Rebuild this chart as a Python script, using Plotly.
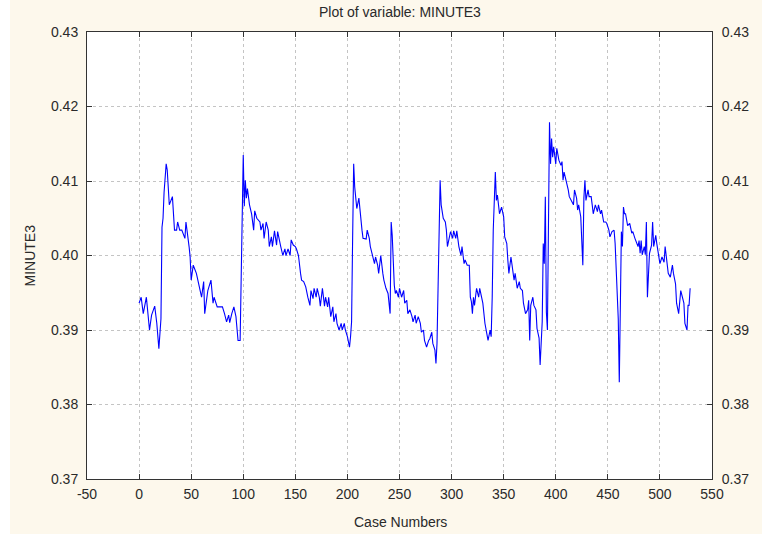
import plotly.graph_objects as go

# Case numbers and MINUTE3 values
case_numbers = [
    0, 2, 4, 7, 10, 12, 15, 17, 19, 21, 22, 23, 24, 26, 27, 28, 29, 32, 33, 34,
    36, 37, 39, 41, 44, 45, 48, 49, 50, 52, 55, 58, 60, 62, 63, 66, 69, 71, 72, 75,
    80, 82, 84, 86, 87, 89, 91, 93, 94, 95, 97, 98, 99, 100, 101, 102, 103, 104, 106, 108,
    110, 111, 113, 116, 117, 119, 120, 122, 124, 125, 127, 128, 130, 132, 133, 135, 136, 138, 140, 141,
    143, 145, 146, 148, 150, 151, 153, 155, 156, 158, 159, 160, 162, 164, 165, 167, 168, 170, 171, 173,
    174, 176, 178, 179, 181, 182, 184, 186, 187, 189, 190, 192, 194, 195, 197, 198, 200, 202, 203, 204,
    205, 206, 207, 209, 211, 212, 214, 215, 218, 219, 221, 222, 224, 226, 227, 229, 230, 232, 234, 235,
    237, 238, 239, 241, 242, 243, 244, 245, 246, 247, 249, 250, 252, 254, 255, 257, 258, 260, 262, 263,
    265, 266, 268, 270, 271, 273, 274, 276, 278, 279, 281, 282, 284, 285, 286, 287, 288, 289, 290, 292,
    294, 295, 296, 298, 299, 301, 302, 304, 305, 307, 309, 310, 312, 313, 315, 317, 318, 319, 320, 321,
    322, 324, 326, 327, 329, 330, 332, 334, 335, 337, 338, 339, 340, 342, 343, 344, 345, 346, 348, 350,
    351, 353, 354, 355, 357, 358, 360, 361, 363, 365, 366, 368, 369, 371, 373, 374, 375, 376, 378, 379,
    381, 382, 384, 385, 386, 387, 388, 389, 390, 391, 392, 393, 394, 395, 396, 397, 398, 400, 401, 403,
    405, 406, 407, 408, 410, 412, 413, 415, 417, 418, 420, 421, 422, 424, 425, 426, 427, 428, 429, 431,
    432, 434, 435, 436, 438, 440, 441, 443, 444, 446, 448, 449, 451, 452, 454, 456, 457, 459, 460, 461,
    462, 463, 464, 465, 466, 467, 469, 471, 473, 474, 476, 477, 479, 480, 481, 482, 483, 485, 486, 487,
    488, 489, 490, 492, 493, 494, 496, 497, 499, 500, 502, 504, 505, 507, 508, 510, 512, 513, 515, 516,
    518, 520, 521, 523, 524, 526, 527, 528, 529,
]

minute3 = [
    0.3936, 0.3944, 0.3922, 0.3944, 0.3900, 0.3920, 0.3932, 0.3909, 0.3875, 0.3915, 0.4038, 0.4050, 0.4085, 0.4123, 0.4115, 0.4085, 0.4068, 0.4079, 0.4045, 0.4034,
    0.4034, 0.4045, 0.4034, 0.4034, 0.4023, 0.4045, 0.4012, 0.3998, 0.3967, 0.3987, 0.3976, 0.3956, 0.3944, 0.3965, 0.3922, 0.3953, 0.3967, 0.3936, 0.3944, 0.3931,
    0.3931, 0.3922, 0.3911, 0.3920, 0.3910, 0.3922, 0.3931, 0.3918, 0.3900, 0.3886, 0.3886, 0.3956, 0.4070, 0.4135, 0.4066, 0.4101, 0.4077, 0.4090, 0.4068, 0.4056,
    0.4034, 0.4060, 0.4050, 0.4045, 0.4034, 0.4043, 0.4023, 0.4045, 0.4034, 0.4012, 0.4025, 0.4012, 0.4033, 0.4014, 0.4032, 0.4021, 0.4012, 0.4000, 0.4009, 0.4000,
    0.4009, 0.4000, 0.4021, 0.4014, 0.4012, 0.4009, 0.4000, 0.3976, 0.3967, 0.3965, 0.3962, 0.3958, 0.3944, 0.3933, 0.3953, 0.3942, 0.3956, 0.3944, 0.3956, 0.3944,
    0.3932, 0.3956, 0.3932, 0.3944, 0.3931, 0.3944, 0.3918, 0.3931, 0.3911, 0.3922, 0.3909, 0.3900, 0.3909, 0.3900, 0.3909, 0.3900, 0.3891, 0.3877, 0.3891, 0.3911,
    0.4023, 0.4123, 0.4092, 0.4063, 0.4077, 0.4059, 0.4034, 0.4023, 0.4022, 0.4034, 0.4023, 0.4012, 0.4000, 0.3989, 0.3998, 0.3987, 0.3976, 0.4000, 0.3976, 0.3967,
    0.3956, 0.3953, 0.3949, 0.3922, 0.4045, 0.4027, 0.3989, 0.3960, 0.3949, 0.3953, 0.3944, 0.3956, 0.3944, 0.3953, 0.3936, 0.3940, 0.3922, 0.3927, 0.3918, 0.3911,
    0.3920, 0.3909, 0.3918, 0.3909, 0.3897, 0.3900, 0.3886, 0.3877, 0.3886, 0.3888, 0.3897, 0.3882, 0.3873, 0.3855, 0.3882, 0.3971, 0.4068, 0.4101, 0.4068, 0.4050,
    0.4045, 0.4034, 0.4012, 0.4025, 0.4032, 0.4023, 0.4033, 0.4023, 0.4033, 0.4012, 0.4000, 0.4012, 0.3989, 0.3994, 0.3987, 0.3987, 0.3944, 0.3938, 0.3922, 0.3944,
    0.3933, 0.3956, 0.3944, 0.3956, 0.3944, 0.3936, 0.3909, 0.3893, 0.3886, 0.3900, 0.3891, 0.3944, 0.4034, 0.4112, 0.4074, 0.4081, 0.4068, 0.4056, 0.4065, 0.4052,
    0.4025, 0.4016, 0.3994, 0.3976, 0.3998, 0.3985, 0.3967, 0.3976, 0.3956, 0.3965, 0.3956, 0.3953, 0.3936, 0.3922, 0.3927, 0.3940, 0.3886, 0.3933, 0.3944, 0.3933,
    0.3927, 0.3902, 0.3889, 0.3853, 0.3886, 0.3911, 0.4016, 0.3989, 0.4079, 0.3924, 0.3900, 0.4108, 0.4179, 0.4123, 0.4157, 0.4132, 0.4146, 0.4123, 0.4144, 0.4128,
    0.4121, 0.4126, 0.4101, 0.4112, 0.4101, 0.4088, 0.4079, 0.4074, 0.4068, 0.4088, 0.4077, 0.4061, 0.4068, 0.4052, 0.4016, 0.3987, 0.4077, 0.4101, 0.4074, 0.4088,
    0.4079, 0.4079, 0.4068, 0.4056, 0.4068, 0.4059, 0.4068, 0.4056, 0.4061, 0.4045, 0.4045, 0.4043, 0.4034, 0.4025, 0.4032, 0.4034, 0.4016, 0.3953, 0.3915, 0.3830,
    0.3942, 0.4032, 0.4012, 0.4065, 0.4056, 0.4056, 0.4040, 0.4043, 0.4030, 0.4032, 0.4023, 0.4020, 0.4012, 0.4020, 0.4003, 0.4020, 0.4001, 0.4012, 0.4001, 0.4045,
    0.3944, 0.3974, 0.4003, 0.4014, 0.4045, 0.4012, 0.4027, 0.4016, 0.4001, 0.3989, 0.3998, 0.3991, 0.4012, 0.3989, 0.3976, 0.3971, 0.3987, 0.3976, 0.3962, 0.3936,
    0.3922, 0.3953, 0.3947, 0.3936, 0.3909, 0.3900, 0.3933, 0.3933, 0.3956,
]

x_ticks = [-50, 0, 50, 100, 150, 200, 250, 300, 350, 400, 450, 500, 550]
y_ticks = [0.37, 0.38, 0.39, 0.40, 0.41, 0.42, 0.43]

title_text = "Plot of variable: MINUTE3"
x_title = "Case Numbers"
y_title = "MINUTE3"

FONT = "Liberation Sans, Arial, sans-serif"
TEXT_COLOR = "#2a2a2a"
AXIS_COLOR = "#333333"
GRID_COLOR = "#C4C4C4"

# plot-area geometry in pixels (used only to place titles / frame strip)
W, H = 762, 534
ML, MR, MT, MB = 87, 50, 32, 55
PW, PH = W - ML - MR, H - MT - MB

fig = go.Figure()
fig.add_trace(go.Scatter(
    x=case_numbers, y=minute3, mode="lines",
    line=dict(color="#0000FF", width=1.1), showlegend=False, hoverinfo="x+y",
))
# invisible copy on the right axis so the right-hand labels are drawn
fig.add_trace(go.Scatter(
    x=case_numbers, y=minute3, mode="lines", yaxis="y2",
    line=dict(color="rgba(0,0,0,0)", width=0), showlegend=False, hoverinfo="skip",
))

axis_common = dict(
    showline=True, linecolor=AXIS_COLOR, linewidth=1,
    ticks="inside", ticklen=5, tickcolor=AXIS_COLOR, tickwidth=1,
    tickfont=dict(family=FONT, size=14, color=TEXT_COLOR),
    zeroline=False, automargin=False,
)

fig.update_layout(
    width=W, height=H,
    margin=dict(l=ML, r=MR, t=MT, b=MB),
    paper_bgcolor="#FDF8EC",
    plot_bgcolor="#FFFFFF",
    xaxis=dict(
        range=[-50, 550], tickmode="array", tickvals=x_ticks,
        ticktext=[str(v) for v in x_ticks], mirror="ticks",
        showgrid=True, gridcolor=GRID_COLOR, griddash="dot", gridwidth=1,
        ticklabelstandoff=2,
        **axis_common,
    ),
    yaxis=dict(
        range=[0.37, 0.43], tickmode="array", tickvals=y_ticks,
        ticktext=[f"{v:.2f}" for v in y_ticks], mirror=True,
        showgrid=True, gridcolor=GRID_COLOR, griddash="dot", gridwidth=1,
        ticklabelstandoff=5,
        **axis_common,
    ),
    yaxis2=dict(
        range=[0.37, 0.43], tickmode="array", tickvals=y_ticks,
        ticktext=[f"{v:.2f}" for v in y_ticks], overlaying="y", side="right",
        showgrid=False, ticklabelstandoff=6,
        **axis_common,
    ),
    annotations=[
        dict(text=title_text, xref="paper", yref="paper", x=0.5, y=(H - MB - 12) / PH,
             yanchor="middle", xanchor="center", showarrow=False,
             font=dict(family=FONT, size=14, color=TEXT_COLOR)),
        dict(text=x_title, xref="paper", yref="paper", x=(400 - ML) / PW, y=-(522 - (H - MB)) / PH,
             yanchor="middle", xanchor="center", showarrow=False,
             font=dict(family=FONT, size=14, color=TEXT_COLOR)),
        dict(text=y_title, xref="paper", yref="paper", x=(29 - ML) / PW, y=0.5,
             yanchor="middle", xanchor="center", showarrow=False, textangle=-90,
             font=dict(family=FONT, size=14, color=TEXT_COLOR)),
    ],
    shapes=[
        # thin white frame strip on the left edge of the window
        dict(type="rect", xref="paper", yref="paper",
             x0=-ML / PW, x1=-(ML - 10) / PW, y0=-MB / PH, y1=(PH + MT) / PH,
             fillcolor="#FFFFFF", line=dict(width=0), layer="below"),
    ],
)

fig.write_html("out.html")
